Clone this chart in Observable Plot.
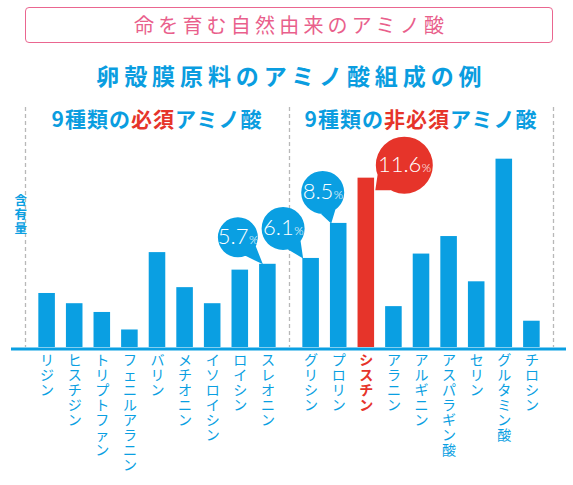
<!DOCTYPE html>
<html><head><meta charset="utf-8">
<script src="https://cdn.jsdelivr.net/npm/d3@7"></script>
<script src="https://cdn.jsdelivr.net/npm/@observablehq/plot@0.6"></script>
<style>
body{margin:0;background:#fff;font-family:"Noto Sans CJK JP","Noto Sans",sans-serif;}
#wrap{position:relative;width:573px;height:485px;overflow:hidden;background:#fff;}
#title{position:absolute;left:25px;top:7px;width:528px;height:36px;box-sizing:border-box;border:1.5px solid #ea6690;border-radius:4px;color:#e95f8c;font-size:20px;letter-spacing:4.2px;padding-left:4.2px;text-align:center;line-height:33px;}
#subtitle{position:absolute;left:0;top:60px;width:573px;text-align:center;color:#0a9de0;font-size:23px;font-weight:bold;letter-spacing:4.9px;padding-left:4.9px;line-height:30px;}
.gt{position:absolute;top:105px;transform:translateX(-50%);white-space:nowrap;font-size:21px;font-weight:bold;color:#0a9de0;letter-spacing:1px;line-height:26px;}
.gt .r{color:#e6342a;}
#chart{position:absolute;left:0;top:95px;}
</style></head>
<body>
<div id="wrap">
  <div id="title"></div>
  <div id="subtitle"></div>
  <div id="chart"></div>
</div>
<script>
// ---- data ----
const titleText = "命を育む自然由来のアミノ酸";
const subtitleText = "卵殻膜原料のアミノ酸組成の例";
const groupTitleParts = [["9種類の", "必須", "アミノ酸"], ["9種類の", "非必須", "アミノ酸"]];
const yLabel = "含有量";
const essentialNames = ["リジン","ヒスチジン","トリプトファン","フェニルアラニン","バリン","メチオニン","イソロイシン","ロイシン","スレオニン"];
const essentialValues = [3.7, 3.0, 2.4, 1.2, 6.5, 4.1, 3.0, 5.3, 5.7];
const nonEssentialNames = ["グリシン","プロリン","シスチン","アラニン","アルギニン","アスパラギン酸","セリン","グルタミン酸","チロシン"];
const nonEssentialValues = [6.1, 8.5, 11.6, 2.8, 6.4, 7.6, 4.5, 12.9, 1.8];
const calloutNames = ["スレオニン","グリシン","プロリン","シスチン"];
const calloutLabels = ["5.7","6.1","8.5","11.6"];
const highlightName = "シスチン";

// ---- styles / layout ----
const BLUE = "#0a9fe2", RED = "#e6342a";
const gapUnits = 0.567, outerUnits = 0.283, halfBar = 0.3;
const calloutLayout = {
  "スレオニン": {cx:-30, cy:-27, r:20, tx:-5, ty:0},
  "グリシン":   {cx:-28, cy:-30, r:21.5, tx:-8, ty:0},
  "プロリン":   {cx:-16, cy:-31, r:21.5, tx:-7.5, ty:0},
  "シスチン":   {cx:38, cy:-13, r:28.5, tx:9, ty:12}
};

const rows = [
  ...essentialNames.map((name,i)=>({name, value:essentialValues[i], group:0, pos:i})),
  ...nonEssentialNames.map((name,i)=>({name, value:nonEssentialValues[i], group:1, pos:essentialNames.length + gapUnits + i}))
];
const firstPos = rows[0].pos, lastPos = rows[rows.length-1].pos;
const g1Last = rows[essentialNames.length-1].pos, g2First = rows[essentialNames.length].pos;
const xDomain = [firstPos - 0.5 - outerUnits, lastPos + 0.5 + outerUnits];
const dividers = [xDomain[0], (g1Last + g2First)/2, xDomain[1]];

document.getElementById("title").textContent = titleText;
document.getElementById("subtitle").textContent = subtitleText;

const measure = (() => { const c = document.createElement("canvas").getContext("2d");
  return (t, f) => { c.font = f; return c.measureText(t).width; }; })();
const FONT = '"Noto Sans CJK JP", "Noto Sans", sans-serif';
const NUMFONT = 'Lato, "Open Sans", sans-serif';

function bubbleSymbol(L){
  return {draw(ctx){
    const {cx,cy,r,tx,ty} = L;
    const th = Math.atan2(ty-cy, tx-cx), d = 0.36;
    ctx.moveTo(cx+r, cy); ctx.arc(cx, cy, r, 0, 2*Math.PI); ctx.closePath();
    ctx.moveTo(cx + r*Math.cos(th-d), cy + r*Math.sin(th-d));
    ctx.lineTo(tx, ty);
    ctx.lineTo(cx + r*Math.cos(th+d), cy + r*Math.sin(th+d));
    ctx.closePath();
  }};
}

const calloutMarks = calloutNames.flatMap((name, k) => {
  const L = calloutLayout[name];
  const sel = rows.filter(d => d.name === name);
  const color = name === highlightName ? RED : BLUE;
  const numSize = 22, pctSize = 12;
  const nw = measure(calloutLabels[k], `300 ${numSize}px ${NUMFONT}`);
  const pw = measure("%", `300 ${pctSize}px ${NUMFONT}`);
  const split = (nw - pw)/2;
  return [
    Plot.dot(sel, {x:"pos", y:"value", symbol: bubbleSymbol(L), fill: color, stroke:"none"}),
    Plot.text(sel, {x:"pos", y:"value", text: () => calloutLabels[k], dx: L.cx + split, dy: L.cy + 7,
      textAnchor:"end", lineAnchor:"bottom", fill:"white", fontSize:numSize, fontFamily: NUMFONT, fontWeight: 300}),
    Plot.text(sel, {x:"pos", y:"value", text: () => "%", dx: L.cx + split + 0.5, dy: L.cy + 7,
      textAnchor:"start", lineAnchor:"bottom", fill:"white", fontSize:pctSize, fontFamily: NUMFONT, fontWeight: 300})
  ];
});

const vert = s => [...s].join("\n");

const chart = Plot.plot({
  width: 573, height: 390,
  marginTop: 12, marginBottom: 138, marginLeft: 25, marginRight: 20,
  style: {fontFamily: FONT, background: "transparent"},
  x: {type: "linear", domain: xDomain, axis: null},
  y: {domain: [0, 16.44], axis: null},
  marks: [
    Plot.ruleX(dividers, {stroke:"#b8b8b8", strokeWidth:1.3, strokeDasharray:"4,3"}),
    Plot.rectY(rows, {x1: d => d.pos - halfBar, x2: d => d.pos + halfBar, y: "value",
      fill: d => d.name === highlightName ? RED : BLUE}),
    Plot.ruleY([0], {stroke: BLUE, strokeWidth: 3, insetLeft: -14, insetRight: -13, dy: 1.5}),
    Plot.text(rows.filter(d => d.name !== highlightName), {x:"pos", y:0, text: d => vert(d.name),
      lineAnchor:"top", dy: 7, fontSize: 14, lineHeight: 1.07, fill: BLUE}),
    Plot.text(rows.filter(d => d.name === highlightName), {x:"pos", y:0, text: d => vert(d.name),
      lineAnchor:"top", dy: 7, fontSize: 14, lineHeight: 1.07, fill: RED, fontWeight:"bold"}),
    Plot.text([yLabel], {frameAnchor:"left", dx:-11, dy:-13, text: d => vert(d), fontSize: 12.5,
      lineHeight: 1.12, fill: BLUE, fontWeight: "bold"}),
    ...calloutMarks
  ]
});
document.getElementById("chart").appendChild(chart);

const xs = chart.scale("x");
const wrap = document.getElementById("wrap");
groupTitleParts.forEach((parts, gi) => {
  const center = (dividers[gi] + dividers[gi+1]) / 2;
  const div = document.createElement("div");
  div.className = "gt";
  div.style.left = xs.apply(center) + "px";
  parts.forEach((p, j) => {
    const s = document.createElement("span");
    if (j === 1) s.className = "r";
    s.textContent = p;
    div.appendChild(s);
  });
  wrap.appendChild(div);
});
</script>
</body></html>
